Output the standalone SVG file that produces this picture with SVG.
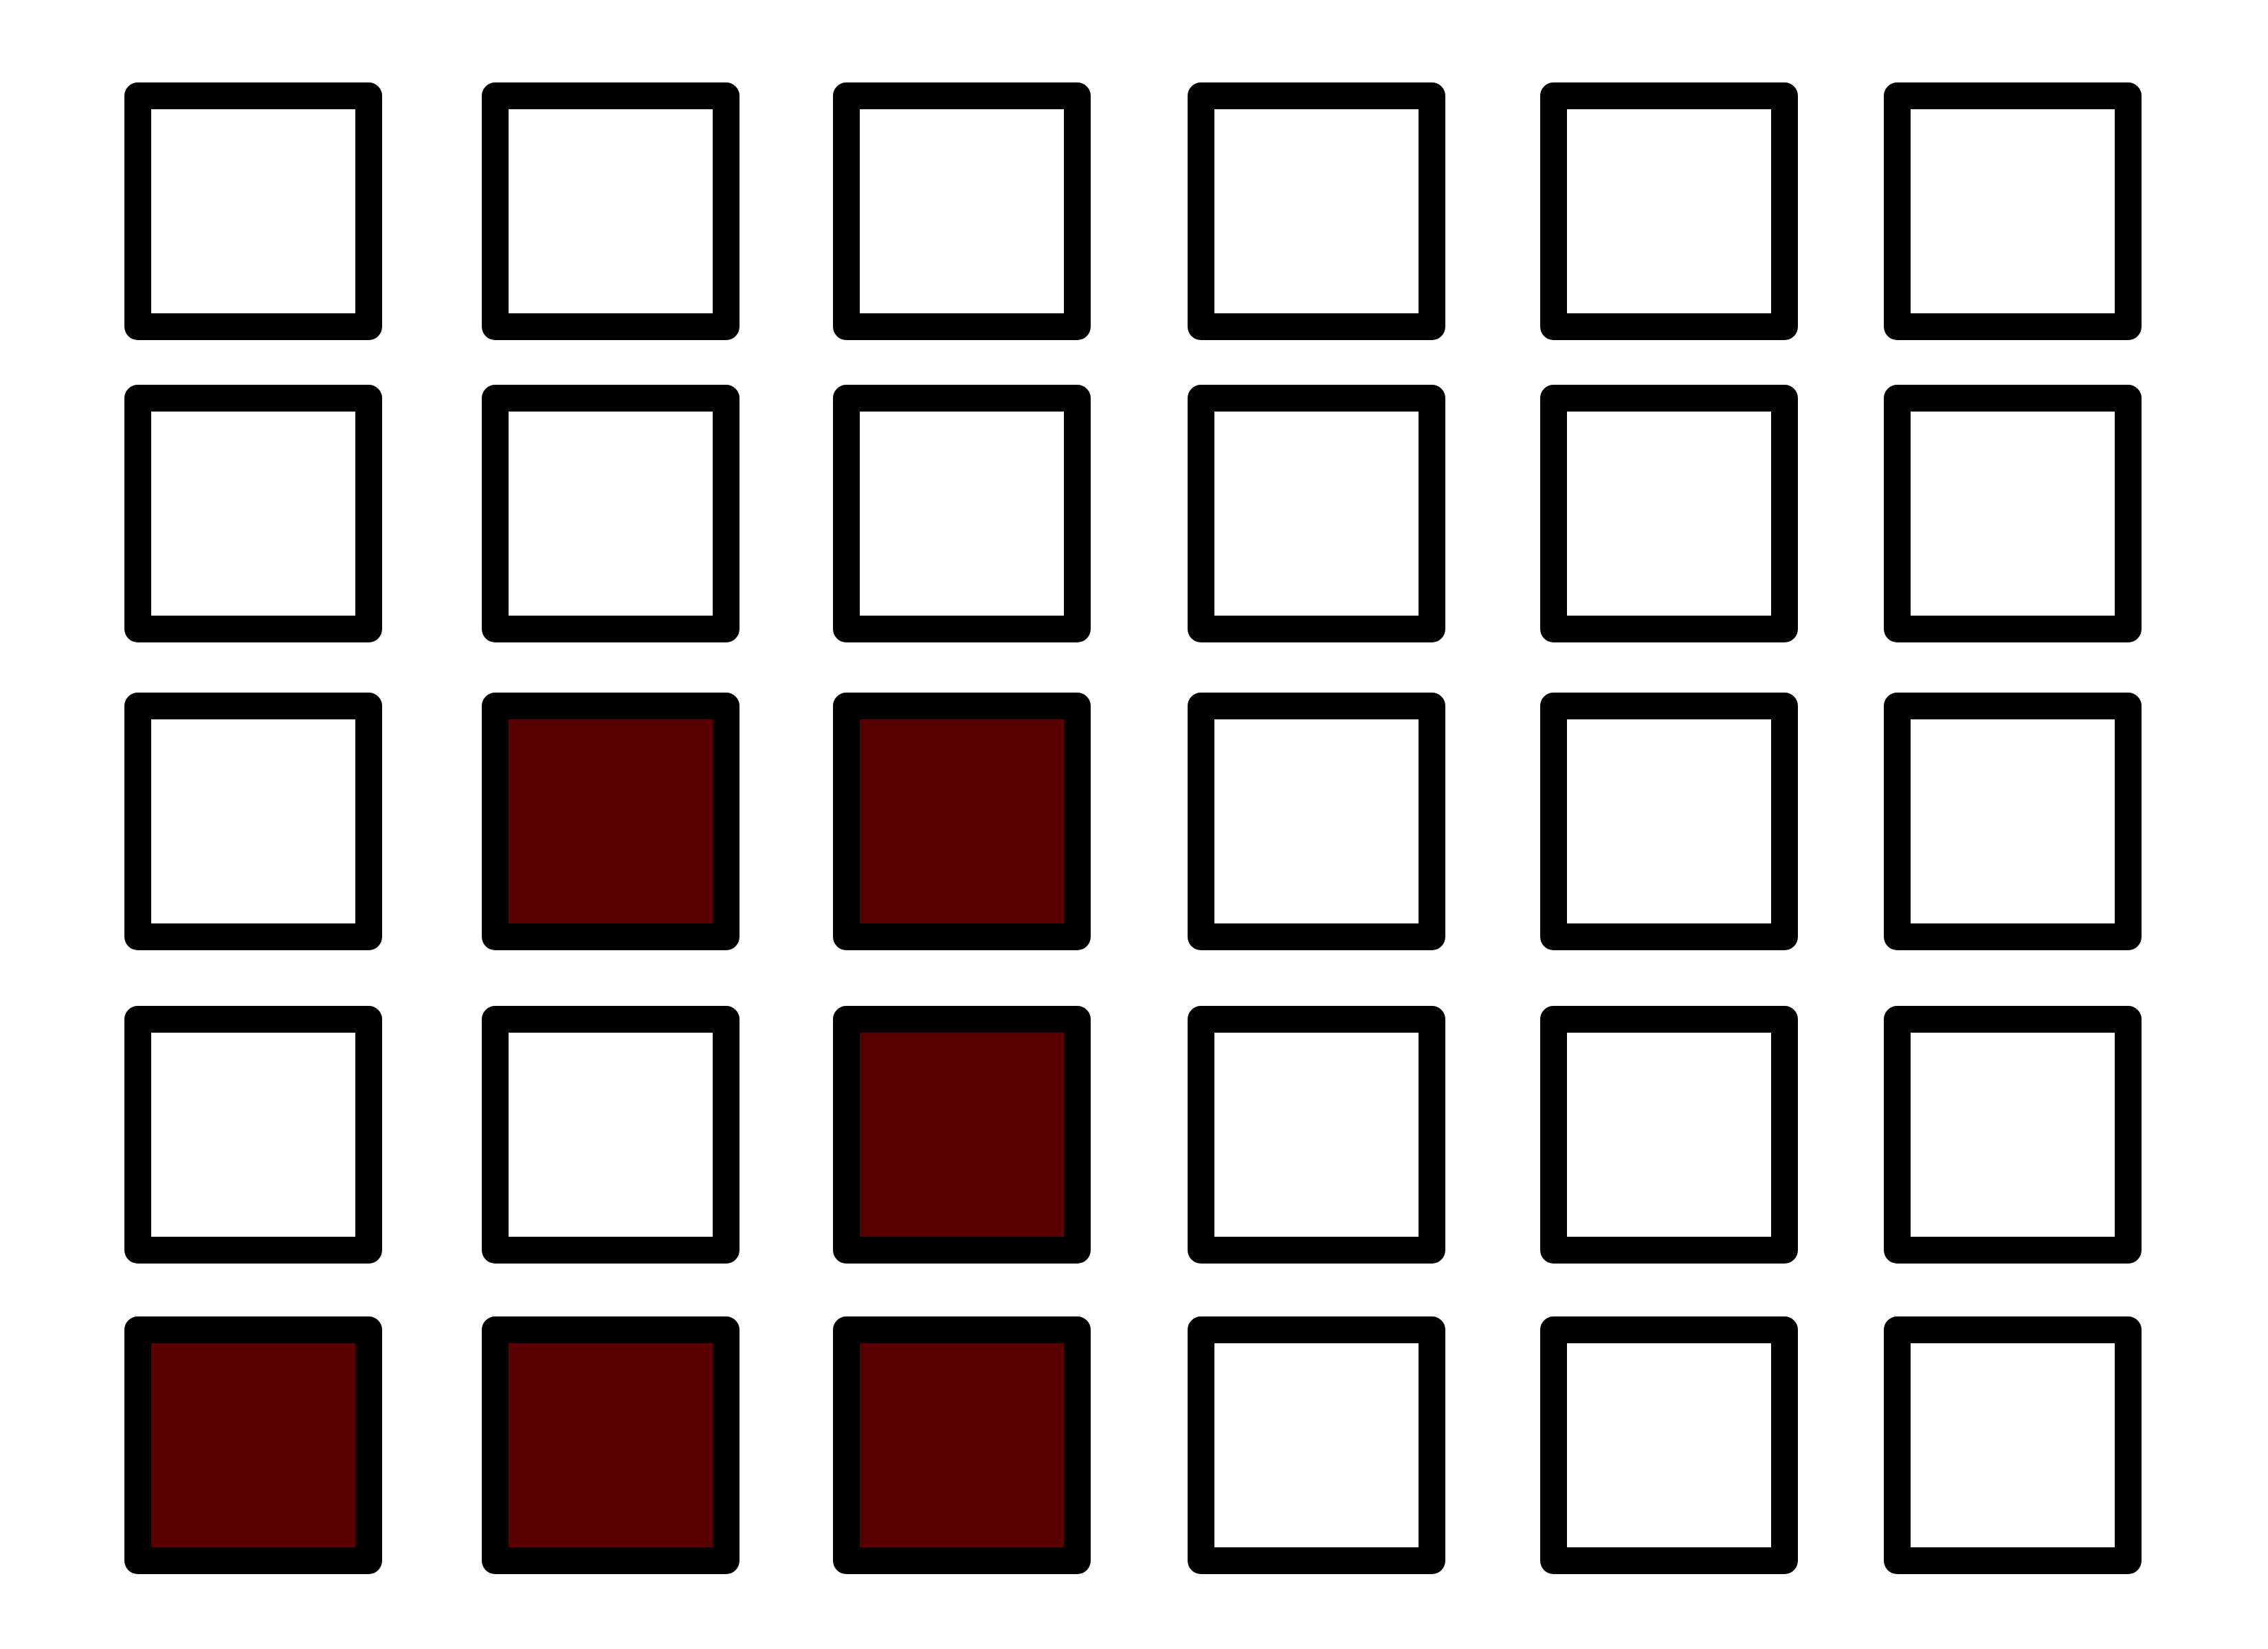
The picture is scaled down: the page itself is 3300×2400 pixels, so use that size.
<svg xmlns="http://www.w3.org/2000/svg" width="3300" height="2400" viewBox="0 0 3300 2400">
<style>
.cell{fill:#ffffff;stroke:#000000;stroke-width:39;stroke-linejoin:round}
.on{fill:#5b0000}
</style>
<rect x="0" y="0" width="3300" height="2400" fill="#ffffff"/>
<g id="r1c1"><rect class="cell" x="200.5" y="139.5" width="336" height="336"/></g>
<g id="r1c2"><rect class="cell" x="720.5" y="139.5" width="336" height="336"/></g>
<g id="r1c3"><rect class="cell" x="1231.5" y="139.5" width="336" height="336"/></g>
<g id="r1c4"><rect class="cell" x="1747.5" y="139.5" width="336" height="336"/></g>
<g id="r1c5"><rect class="cell" x="2260.5" y="139.5" width="336" height="336"/></g>
<g id="r1c6"><rect class="cell" x="2760.5" y="139.5" width="336" height="336"/></g>

<g id="r2c1"><rect class="cell" x="200.5" y="579.5" width="336" height="336"/></g>
<g id="r2c2"><rect class="cell" x="720.5" y="579.5" width="336" height="336"/></g>
<g id="r2c3"><rect class="cell" x="1231.5" y="579.5" width="336" height="336"/></g>
<g id="r2c4"><rect class="cell" x="1747.5" y="579.5" width="336" height="336"/></g>
<g id="r2c5"><rect class="cell" x="2260.5" y="579.5" width="336" height="336"/></g>
<g id="r2c6"><rect class="cell" x="2760.5" y="579.5" width="336" height="336"/></g>

<g id="r3c1"><rect class="cell" x="200.5" y="1027.5" width="336" height="336"/></g>
<g id="r3c2"><rect class="cell on" x="720.5" y="1027.5" width="336" height="336"/></g>
<g id="r3c3"><rect class="cell on" x="1231.5" y="1027.5" width="336" height="336"/></g>
<g id="r3c4"><rect class="cell" x="1747.5" y="1027.5" width="336" height="336"/></g>
<g id="r3c5"><rect class="cell" x="2260.5" y="1027.5" width="336" height="336"/></g>
<g id="r3c6"><rect class="cell" x="2760.5" y="1027.5" width="336" height="336"/></g>

<g id="r4c1"><rect class="cell" x="200.5" y="1483.5" width="336" height="336"/></g>
<g id="r4c2"><rect class="cell" x="720.5" y="1483.5" width="336" height="336"/></g>
<g id="r4c3"><rect class="cell on" x="1231.5" y="1483.5" width="336" height="336"/></g>
<g id="r4c4"><rect class="cell" x="1747.5" y="1483.5" width="336" height="336"/></g>
<g id="r4c5"><rect class="cell" x="2260.5" y="1483.5" width="336" height="336"/></g>
<g id="r4c6"><rect class="cell" x="2760.5" y="1483.5" width="336" height="336"/></g>

<g id="r5c1"><rect class="cell on" x="200.5" y="1935.5" width="336" height="336"/></g>
<g id="r5c2"><rect class="cell on" x="720.5" y="1935.5" width="336" height="336"/></g>
<g id="r5c3"><rect class="cell on" x="1231.5" y="1935.5" width="336" height="336"/></g>
<g id="r5c4"><rect class="cell" x="1747.5" y="1935.5" width="336" height="336"/></g>
<g id="r5c5"><rect class="cell" x="2260.5" y="1935.5" width="336" height="336"/></g>
<g id="r5c6"><rect class="cell" x="2760.5" y="1935.5" width="336" height="336"/></g>
<g id="connectors"></g>
</svg>
